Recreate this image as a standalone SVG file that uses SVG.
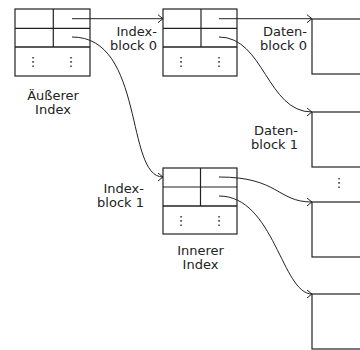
<svg xmlns="http://www.w3.org/2000/svg" width="360" height="350" viewBox="0 0 360 350">
<defs>
<marker id="arr" viewBox="-6 -5 7 10" markerWidth="7" markerHeight="10" refX="0" refY="0" markerUnits="userSpaceOnUse" orient="auto">
<path d="M-5,-4 Q-1.5,-1 0,0 Q-1.5,1 -5,4" fill="none" stroke="#222" stroke-width="1"/>
</marker>
</defs>
<style>
.box{fill:#fff;stroke:#222;stroke-width:1.2}
.ln{stroke:#222;stroke-width:1.2;fill:none}
.sep{stroke:#222;stroke-width:1.6;fill:none}
.con{stroke:#222;stroke-width:1;fill:none;marker-end:url(#arr)}
text{font-family:"DejaVu Sans",sans-serif;font-size:13px;fill:#222}
.e{text-anchor:end}
.m{text-anchor:middle}
</style>
<rect width="360" height="350" fill="#fff"/>
<g id="outer-index">
<rect class="box" x="15" y="9" width="75" height="67"/>
<line class="ln" x1="15" y1="28.3" x2="90" y2="28.3"/>
<line class="sep" x1="15" y1="47" x2="90" y2="47"/>
<line class="ln" x1="53.3" y1="9" x2="53.3" y2="47"/>
<text class="m" x="33" y="66">⋮</text>
<text class="m" x="71" y="66">⋮</text>
<text class="m" x="53" y="100">Äußerer</text>
<text class="m" x="53" y="114">Index</text>
</g>
<g id="index-block-0">
<rect class="box" x="163" y="9" width="74" height="67"/>
<line class="ln" x1="163" y1="28.3" x2="237" y2="28.3"/>
<line class="sep" x1="163" y1="47" x2="237" y2="47"/>
<line class="ln" x1="201" y1="9" x2="201" y2="47"/>
<text class="m" x="181" y="66">⋮</text>
<text class="m" x="219" y="66">⋮</text>
<text class="e" x="157" y="36">Index-</text>
<text class="e" x="157" y="50">block 0</text>
</g>
<g id="inner-index">
<rect class="box" x="163" y="168" width="74" height="66"/>
<line class="ln" x1="163" y1="187" x2="237" y2="187"/>
<line class="sep" x1="163" y1="206" x2="237" y2="206"/>
<line class="ln" x1="200.5" y1="168" x2="200.5" y2="206"/>
<text class="m" x="181" y="225">⋮</text>
<text class="m" x="219" y="225">⋮</text>
<text class="e" x="144" y="192.5">Index-</text>
<text class="e" x="144" y="206.5">block 1</text>
<text class="m" x="200.5" y="255">Innerer</text>
<text class="m" x="200.5" y="269">Index</text>
</g>
<g id="data-block-0">
<rect class="box" x="312" y="19" width="60" height="55"/>
<text class="e" x="307" y="36">Daten-</text>
<text class="e" x="307" y="50">block 0</text>
</g>
<g id="data-block-1">
<rect class="box" x="312" y="112" width="60" height="55"/>
<text class="e" x="298" y="135">Daten-</text>
<text class="e" x="298" y="149">block 1</text>
</g>
<g id="data-dots">
<text class="m" x="339" y="187">⋮</text>
</g>
<g id="data-block-2">
<rect class="box" x="312" y="202" width="60" height="55"/>
</g>
<g id="data-block-3">
<rect class="box" x="312" y="294" width="60" height="55"/>
</g>
<g id="connectors">
<path class="con" d="M72,18.7 L163,18.7"/>
<path class="con" d="M219,18.7 L312,18.7"/>
<path class="con" d="M72,37 C145,37 125,177 163,177"/>
<path class="con" d="M219,37 C264,37 267,112 312,112"/>
<path class="con" d="M219,177 C279,177 277,202 312,202"/>
<path class="con" d="M219,196 C274,196 282,294 312,294"/>
</g>
</svg>
